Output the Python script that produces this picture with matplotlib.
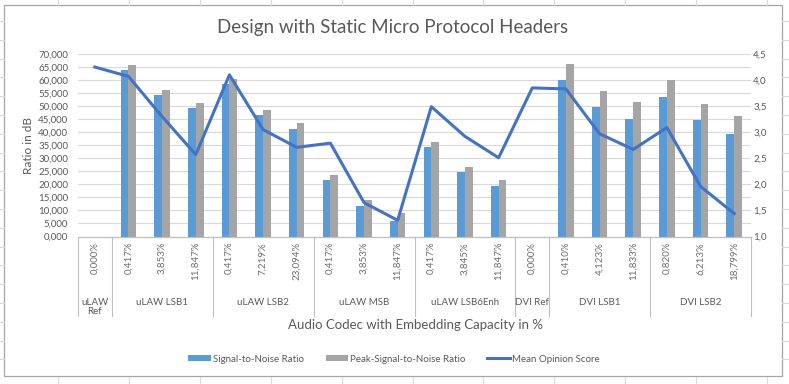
import numpy as np
import matplotlib
matplotlib.use("Agg")
import matplotlib.pyplot as plt
import matplotlib.transforms as mtransforms
from matplotlib.lines import Line2D
from matplotlib.patches import Rectangle, Patch

plt.rcParams['font.family'] = ['Lato', 'DejaVu Sans']

capacities = ["0,000%", "0,417%", "3,853%", "11,847%", "0,417%", "7,219%", "23,094%",
              "0,417%", "3,853%", "11,847%", "0,417%", "3,845%", "11,847%", "0,000%",
              "0,410%", "4,123%", "11,833%", "0,820%", "6,213%", "18,799%"]
groups = ["uLAW\nRef", "uLAW LSB1", "uLAW LSB2", "uLAW MSB", "uLAW LSB6Enh",
          "DVI Ref", "DVI LSB1", "DVI LSB2"]
group_sizes = [1, 3, 3, 3, 3, 1, 3, 3]
snr = [0, 64.0, 54.4, 49.4, 58.65, 46.5, 41.3, 21.5, 11.7, 5.8,
       34.15, 24.8, 19.5, 0, 59.9, 49.5, 45.2, 53.5, 44.8, 39.5]
psnr = [0, 65.85, 56.2, 51.3, 60.6, 48.5, 43.5, 23.4, 13.9, 8.9,
        36.35, 26.7, 21.85, 0, 66.3, 56.0, 51.6, 59.9, 51.0, 46.3]
mos = [4.25, 4.07, 3.30, 2.57, 4.10, 3.05, 2.71, 2.79, 1.65, 1.31,
       3.49, 2.92, 2.51, 3.85, 3.83, 2.97, 2.67, 3.09, 1.96, 1.44]

TXT = '#595959'
W, H = 789, 384
fig = plt.figure(figsize=(W/100, H/100), dpi=100)

# chart border and outside spreadsheet cell lines
fig.patches.append(Rectangle((4/W, 1-376/H), 778/W, 371/H, transform=fig.transFigure,
                             fill=False, edgecolor='#A6A6A6', lw=0.9))
for cx in np.arange(58, W, 70.9):
    fig.add_artist(Line2D([cx/W, cx/W], [1, 1-5/H], transform=fig.transFigure, color='#D9D9D9', lw=0.8))
    fig.add_artist(Line2D([cx/W, cx/W], [0, 1-377/H], transform=fig.transFigure, color='#D9D9D9', lw=0.8))
for ry in np.arange(21, 376, 18.8):
    fig.add_artist(Line2D([0, 4/W], [1-ry/H, 1-ry/H], transform=fig.transFigure, color='#D9D9D9', lw=0.8))
    fig.add_artist(Line2D([782/W, 1], [1-ry/H, 1-ry/H], transform=fig.transFigure, color='#D9D9D9', lw=0.8))

top_px, bot_px = 54, 236.5
ax = fig.add_axes([78/W, 1-bot_px/H, 673/W, (bot_px-top_px)/H])
ax2 = ax.twinx()

x = np.arange(len(capacities))
bw = 0.23
ax.bar(x-bw/2, snr, bw, color='#5B9BD5', zorder=2)
ax.bar(x+bw/2, psnr, bw, color='#A5A5A5', zorder=2)
ax2.plot(x, mos, color='#4472C4', lw=2.2, solid_joinstyle='round')

ax.set_xlim(-0.5, len(capacities)-0.5)
ax.set_ylim(0, 70)
ax.set_yticks(np.arange(0, 71, 5))
ax.set_yticklabels([f"{v:.3f}".replace('.', ',') for v in np.arange(0, 71, 5)])
ax2.set_ylim(1, 4.5)
r_ticks = np.arange(1, 4.51, 0.5)
ax2.set_yticks(r_ticks)
ax2.set_yticklabels([f"{v:.1f}".replace('.', ',') for v in r_ticks])
ax.set_xticks([])
ax.yaxis.grid(True, color='#D9D9D9', lw=0.8)
ax.set_axisbelow(True)
for a in (ax, ax2):
    for s in ('top', 'left', 'right'):
        a.spines[s].set_visible(False)
    a.spines['bottom'].set_color('#BFBFBF')
    a.spines['bottom'].set_linewidth(0.8)
    a.tick_params(length=0, labelsize=7, labelcolor=TXT)
ax.tick_params(axis='y', pad=7)
ax2.tick_params(axis='y', pad=1.5)

def yf(py):
    return (bot_px - py) / (bot_px - top_px)

trans = mtransforms.blended_transform_factory(ax.transData, ax.transAxes)
for i, lab in enumerate(capacities):
    ax.text(i, yf(242), lab, rotation=90, ha='center', va='top', transform=trans,
            fontsize=7, color='#6E6E6E')

b = -0.5
bounds = [b]
for g, n in zip(groups, group_sizes):
    ax.text(b + n/2, yf(298), g, ha='center', va='top', transform=trans,
            fontsize=7, color=TXT, linespacing=0.95, multialignment='center')
    b += n
    bounds.append(b)
for bb in bounds:
    ax.add_artist(Line2D([bb, bb], [0, yf(316)], transform=trans, color='#BFBFBF', lw=0.8, clip_on=False))

fig.text(393/W, 1-28/H, "Design with Static Micro Protocol Headers", ha='center', va='center',
         fontsize=13.5, color=TXT)
fig.text(28/W, 1-145/H, "Ratio in dB", rotation=90, ha='center', va='center', fontsize=8.5, color=TXT)
fig.text(415/W, 1-325/H, "Audio Codec with Embedding Capacity in %", ha='center', va='center',
         fontsize=9.5, color=TXT)

handles = [Patch(facecolor='#5B9BD5'), Patch(facecolor='#A5A5A5'),
           Line2D([], [], color='#4472C4', lw=2.2)]
labels = ["Signal-to-Noise Ratio", "Peak-Signal-to-Noise Ratio", "Mean Opinion Score"]
fig.legend(handles, labels, loc='center', bbox_to_anchor=(394/W, 1-359/H), ncol=3,
           frameon=False, fontsize=7, labelcolor=TXT, handlelength=2.3, handleheight=0.6,
           handletextpad=0.25, columnspacing=2.2, borderpad=0)

fig.savefig("out.png", dpi=100)
